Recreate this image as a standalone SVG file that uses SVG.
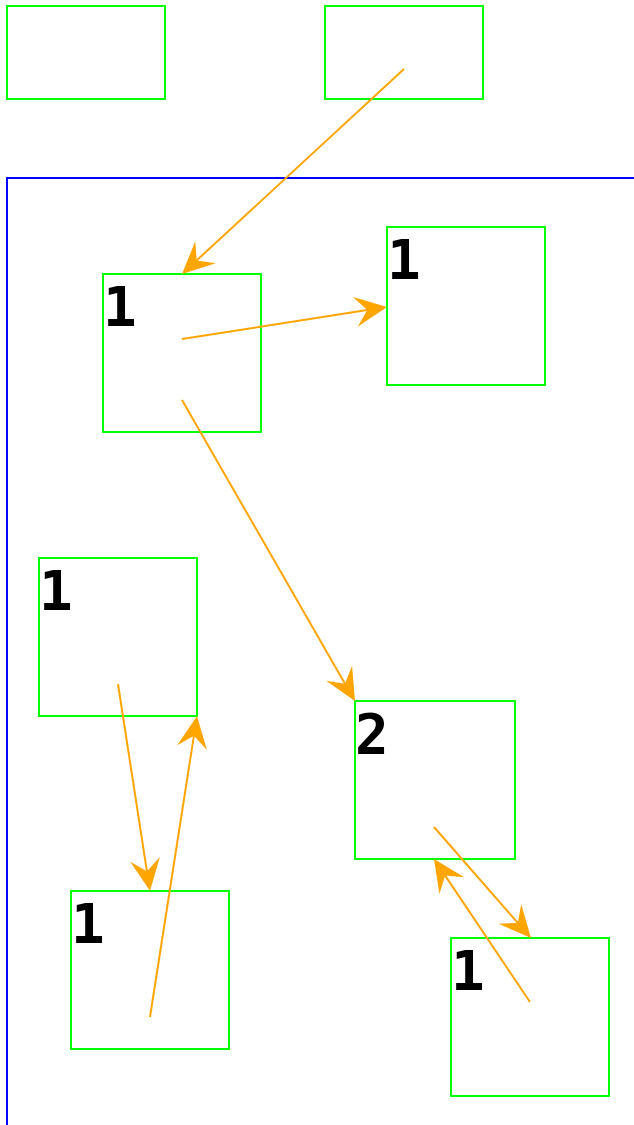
<svg xmlns="http://www.w3.org/2000/svg" width="634" height="1125" viewBox="0 0 634 1125">
<style>
.box{fill:none;stroke:#00ff00;stroke-width:2}
.lbl{font-family:"DejaVu Sans Mono","Liberation Mono",monospace;font-weight:bold;font-size:56px;fill:#000}
.edge{fill:none;stroke:#ffa500;stroke-width:2}
.head{fill:#ffa500;stroke:none}
</style>
<rect width="634" height="1125" fill="#fff"/>
<g id="top1"><rect class="box" x="7" y="6" width="158" height="93"/></g>
<g id="top2"><rect class="box" x="325" y="6" width="158" height="93"/></g>
<g id="container"><path d="M7,1125 V178 H634" fill="none" stroke="#0000ff" stroke-width="2"/></g>
<g id="nA"><rect class="box" x="103" y="274" width="158" height="158"/><text class="lbl" x="103" y="326">1</text></g>
<g id="nB"><rect class="box" x="387" y="227" width="158" height="158"/><text class="lbl" x="387" y="279">1</text></g>
<g id="nC"><rect class="box" x="39" y="558" width="158" height="158"/><text class="lbl" x="39" y="610">1</text></g>
<g id="nD"><rect class="box" x="355" y="701" width="160" height="158"/><text class="lbl" x="355" y="753">2</text></g>
<g id="nE"><rect class="box" x="451" y="938" width="158" height="158"/><text class="lbl" x="451" y="990">1</text></g>
<g id="nF"><rect class="box" x="71" y="891" width="158" height="158"/><text class="lbl" x="71" y="943">1</text></g>
<g id="connectors">
<line class="edge" x1="404" y1="69" x2="196.7" y2="260.4"/>
<polygon class="head" points="182,274 195.3,241.3 196.7,260.4 215.7,263.3"/>
<line class="edge" x1="182" y1="339" x2="367.2" y2="310.1"/>
<polygon class="head" points="387,307 357.7,326.8 367.2,310.1 353.1,297.1"/>
<line class="edge" x1="182" y1="400" x2="345" y2="683.7"/>
<polygon class="head" points="355,701 326.1,680.7 345,683.7 352.1,665.8"/>
<line class="edge" x1="118" y1="684" x2="146.9" y2="871.2"/>
<polygon class="head" points="150,891 130.3,861.7 146.9,871.2 159.9,857.1"/>
<line class="edge" x1="150" y1="1017" x2="193.9" y2="735.8"/>
<polygon class="head" points="197,716 206.9,749.9 193.9,735.8 177.2,745.3"/>
<line class="edge" x1="434" y1="827" x2="517.8" y2="922.9"/>
<polygon class="head" points="531,938 498.6,923.8 517.8,922.9 521.2,904"/>
<line class="edge" x1="530" y1="1002" x2="445.2" y2="875.6"/>
<polygon class="head" points="434,859 464.3,877.2 445.2,875.6 439.4,893.9"/>
</g>
</svg>
